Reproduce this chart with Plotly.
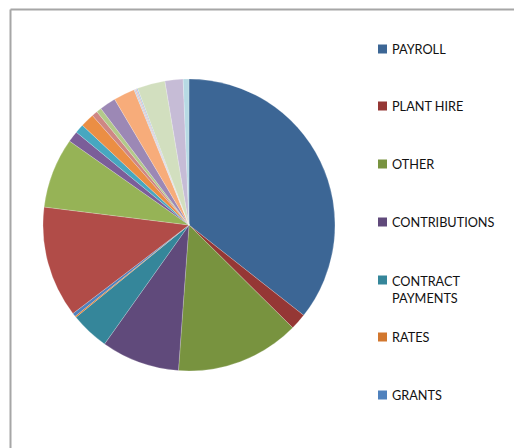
import plotly.graph_objects as go

# Slice data (clockwise from 12 o'clock), values read as shares of the circle (degrees)
labels = ["PAYROLL", "PLANT HIRE", "OTHER", "CONTRIBUTIONS", "CONTRACT PAYMENTS",
          "RATES", "GRANTS", "ITEM 8", "ITEM 9", "ITEM 10", "ITEM 11", "ITEM 12",
          "ITEM 13", "ITEM 14", "ITEM 15", "ITEM 16", "ITEM 17", "ITEM 18", "ITEM 19",
          "ITEM 20", "ITEM 21", "ITEM 22"]
values = [128.2, 6.5, 49.4, 31.2, 15.4,
          0.5, 1.4, 44.4, 28.0, 4.4, 3.6, 5.5,
          2.3, 2.0, 6.5, 8.5, 0.5, 0.5, 0.5,
          11.1, 7.2, 2.3]
colors = ["#3C6695", "#953735", "#78933F", "#604A7B", "#35869A",
          "#E46C0A", "#4F81BD", "#B14C48", "#96B356", "#7B5E99", "#47A7C0", "#EB8E44",
          "#CE8784", "#B3C98A", "#9C88B5", "#F7AC7A", "#B9CDE5", "#E6B9B8", "#A9C3E0",
          "#D2DFBF", "#C6BCD6", "#B7DAE4"]

legend_labels = ["PAYROLL", "PLANT HIRE", "OTHER", "CONTRIBUTIONS",
                 "CONTRACT<br>PAYMENTS", "RATES", "GRANTS"]
legend_colors = ["#3C6695", "#953735", "#78933F", "#604A7B", "#35869A", "#D2772E", "#4F81BD"]

W, H = 514, 448
FONT = "Lato"
FS = 12.7

fig = go.Figure()
cx, cy, r = 189, 225, 146
fig.add_trace(go.Pie(
    labels=labels, values=values, sort=False, direction="clockwise", rotation=0,
    marker=dict(colors=colors, line=dict(color="rgba(255,255,255,0.5)", width=0.4)),
    textinfo="none", showlegend=False, hoverinfo="label+percent",
    domain=dict(x=[(cx - r) / W, (cx + r) / W], y=[1 - (cy + r) / H, 1 - (cy - r) / H]),
))

shapes = [
    dict(type="line", xref="paper", yref="paper", x0=10.5 / W, x1=1, y0=1 - 9.5 / H, y1=1 - 9.5 / H,
         line=dict(color="#A6A6A6", width=2)),
    dict(type="line", xref="paper", yref="paper", x0=10.5 / W, x1=10.5 / W, y0=0, y1=1 - 9.5 / H,
         line=dict(color="#A6A6A6", width=2)),
]
annotations = []
ycenters = [49, 106, 164, 222, 280, 337, 395]
for lab, col, yc in zip(legend_labels, legend_colors, ycenters):
    shapes.append(dict(type="rect", xref="paper", yref="paper",
                       x0=378 / W, x1=387 / W, y0=1 - (yc + 4.5) / H, y1=1 - (yc - 4.5) / H,
                       fillcolor=col, line=dict(width=0)))
    if "<br>" in lab:
        annotations.append(dict(xref="paper", yref="paper", x=390 / W, y=1 - (yc - 9.5) / H,
                                xanchor="left", yanchor="top", align="left", text=lab, showarrow=False,
                                font=dict(family=FONT, size=FS, color="#111111")))
    else:
        annotations.append(dict(xref="paper", yref="paper", x=390 / W, y=1 - yc / H,
                                xanchor="left", yanchor="middle", align="left", text=lab, showarrow=False,
                                font=dict(family=FONT, size=FS, color="#111111")))

fig.update_layout(
    width=W, height=H, margin=dict(l=0, r=0, t=0, b=0),
    paper_bgcolor="white", plot_bgcolor="white",
    shapes=shapes, annotations=annotations, showlegend=False,
    font=dict(family=FONT, size=FS),
)
fig.write_html("out.html", config={"displayModeBar": False},
               post_script="document.body.style.margin='0';document.body.style.overflow='hidden';")
